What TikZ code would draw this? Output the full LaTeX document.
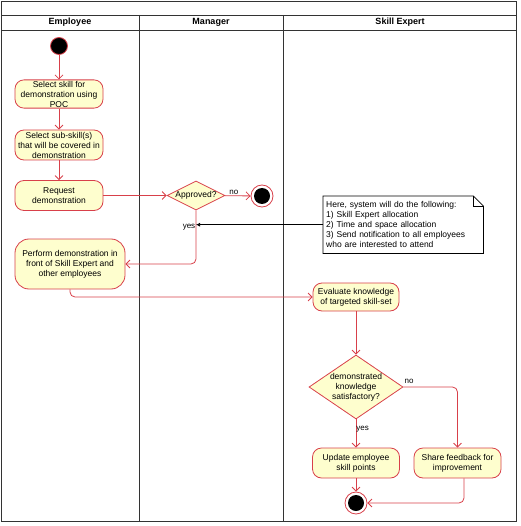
\documentclass[tikz,border=0pt]{standalone}
\usepackage{fontspec}
\setmainfont{Liberation Sans}
\usetikzlibrary{arrows.meta,shapes.geometric,calc}
\definecolor{nodefill}{HTML}{FEFECE}
\definecolor{nodeline}{HTML}{D8404A}
\definecolor{lanecol}{HTML}{333333}
\begin{document}
\begin{tikzpicture}[x=1pt,y=-1pt,
  font=\fontsize{8.5}{10}\selectfont,
  act/.style={draw=nodeline, fill=nodefill, rounded corners=9pt, line width=0.8pt, align=center, inner sep=1pt},
  dec/.style={diamond, draw=nodeline, fill=nodefill, line width=0.8pt, align=center, inner sep=0pt},
  flow/.style={draw=nodeline, line width=0.8pt, -{Straight Barb[length=4pt,width=8pt]}, rounded corners=5pt},
  lane/.style={draw=lanecol, line width=0.9pt},
  hdr/.style={font=\fontsize{9}{10}\selectfont\bfseries},
  lbl/.style={font=\fontsize{8}{9}\selectfont, inner sep=1pt},
  startnode/.style={circle, fill=black, draw=nodeline, line width=0.8pt, minimum size=17pt, inner sep=0pt},
  endnode/.style={circle, fill=white, draw=nodeline, line width=0.8pt, minimum size=22pt, inner sep=0pt,
     path picture={\fill[black] (path picture bounding box.center) circle (8pt);}},
]
\useasboundingbox (0,0) rectangle (520,526);
% swimlane frame
\draw[lane] (1,1) rectangle (516,521);
\draw[lane] (1,15) -- (516,15);
\draw[lane] (1,30) -- (516,30);
\draw[lane] (139,15) -- (139,521);
\draw[lane] (283,15) -- (283,521);
\node[hdr] (h1) at (70,22.5) {Employee};
\node[hdr] (h2) at (211,22.5) {Manager};
\node[hdr] (h3) at (400,22.5) {Skill Expert};

% nodes
\node[startnode] (start) at (59,46) {};
\node[act, minimum width=88pt, minimum height=28pt] (sel1) at (59,94) {Select skill for\\demonstration using\\POC};
\node[act, minimum width=88pt, minimum height=30pt] (sel2) at (59,145) {Select sub-skill(s)\\that will be covered in\\demonstration};
\node[act, minimum width=88pt, minimum height=30pt] (req) at (59,195.5) {Request\\demonstration};
\node[dec, shape aspect=2, minimum width=58pt, minimum height=29pt] (appr) at (196,195.5) {Approved?};
\node[endnode] (end1) at (262,196) {};
\node[act, rounded corners=14pt, minimum width=110pt, minimum height=50pt] (perf) at (70,264) {Perform demonstration in\\front of Skill Expert and\\other employees};
\node[act, minimum width=86pt, minimum height=28pt] (eval) at (356,297) {Evaluate knowledge\\of targeted skill-set};
\node[dec, shape aspect=1.47, minimum width=94pt, minimum height=64pt] (dia2) at (356,387) {demonstrated\\knowledge\\satisfactory?};
\node[act, minimum width=87pt, minimum height=30pt] (upd) at (356,463) {Update employee\\skill points};
\node[act, minimum width=87pt, minimum height=30pt] (share) at (457.5,463) {Share feedback for\\improvement};
\node[endnode] (end2) at (356,503) {};

% note
\node[anchor=north west, align=left, text width=154pt, inner sep=3pt, minimum height=57pt] (note) at (323,196)
  {Here, system will do the following:\\1) Skill Expert allocation\\2) Time and space allocation\\3) Send notification to all employees\\who are interested to attend};
\draw[line width=0.7pt] (note.north west) -- ([xshift=-10pt]note.north east) -- ([yshift=-10pt]note.north east)
  -- (note.south east) -- (note.south west) -- cycle;
\draw[line width=0.7pt] ([xshift=-10pt]note.north east) -- ([xshift=-10pt,yshift=-10pt]note.north east) -- ([yshift=-10pt]note.north east);

% connectors
\draw[flow] (start) -- (sel1);
\draw[flow] (sel1) -- (sel2);
\draw[flow] (sel2) -- (req);
\draw[flow] (req) -- (appr);
\draw[flow] (appr) -- node[lbl, above, pos=0.35] {no} (end1);
\draw[flow] (appr.south) |- (perf.east);
\node[lbl] (yeslbl) at (189,227) {yes};
\coordinate (tgt) at (appr.south |- note.west);
\draw[line width=0.7pt, -{Latex[length=4pt,width=4pt]}] (note.west) -- (tgt);
\draw[flow] (perf.south) |- (eval.west);
\draw[flow] (eval) -- (dia2);
\draw[flow] (dia2.south) -- node[lbl, right, pos=0.35, xshift=-1pt] {yes} (upd.north);
\draw[flow] (dia2.east) -| (share.north);
\node[lbl] (nolbl) at (409,381) {no};
\draw[flow] (upd) -- (end2);
\draw[flow] ([xshift=6.5pt]share.south) |- (end2.east);
\end{tikzpicture}
\end{document}
